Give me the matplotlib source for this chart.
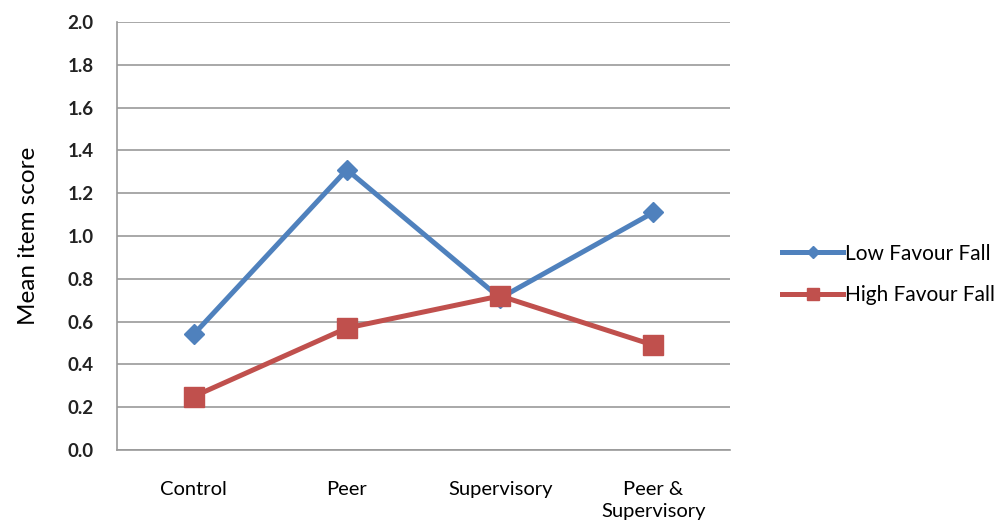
import matplotlib
matplotlib.use("Agg")
import matplotlib.pyplot as plt
from matplotlib.ticker import FixedLocator

categories = ["Control", "Peer", "Supervisory", "Peer &\nSupervisory"]
low_favour = [0.54, 1.31, 0.71, 1.11]
high_favour = [0.25, 0.57, 0.72, 0.49]
y_ticks = [0.0, 0.2, 0.4, 0.6, 0.8, 1.0, 1.2, 1.4, 1.6, 1.8, 2.0]

plt.rcParams["font.family"] = ["Lato", "DejaVu Sans"]

fig = plt.figure(figsize=(10.05, 5.22), dpi=100)
ax = fig.add_axes([0.1164, 0.1379, 0.61, 0.82])

x = list(range(len(categories)))
ax.plot(x, low_favour, color="#4F81BD", lw=3.6, marker="D", ms=10.5,
        label="Low Favour Fall", zorder=3)
ax.plot(x, high_favour, color="#C0504D", lw=3.6, marker="s", ms=15,
        label="High Favour Fall", zorder=4)

ax.set_xlim(-0.5, len(categories) - 0.5)
ax.set_ylim(0, 2.0)
ax.yaxis.set_major_locator(FixedLocator(y_ticks))
ax.set_yticklabels([f"{v:.1f}" for v in y_ticks], fontsize=13.5,
                   fontweight="bold", color="#222222")
ax.set_xticks(x)
ax.set_xticklabels(categories, fontsize=14.5, color="#000000",
                   linespacing=1.4, va="top")
ax.tick_params(axis="both", length=0)
ax.tick_params(axis="x", pad=22)
ax.tick_params(axis="y", pad=17)

ax.grid(axis="y", color="#9a9a9a", lw=1.2)
ax.set_axisbelow(True)
for side in ("top", "right"):
    ax.spines[side].set_visible(False)
for side in ("left", "bottom"):
    ax.spines[side].set_color("#9a9a9a")
    ax.spines[side].set_linewidth(1.2)

ax.set_ylabel("Mean item score", fontsize=17.5, labelpad=20)

leg = ax.legend(loc="center left", bbox_to_anchor=(1.055, 0.41), frameon=False,
                fontsize=15, handlelength=2.9, handletextpad=0.1,
                labelspacing=1.05, markerscale=0.55)

fig.savefig("out.png", dpi=100)
